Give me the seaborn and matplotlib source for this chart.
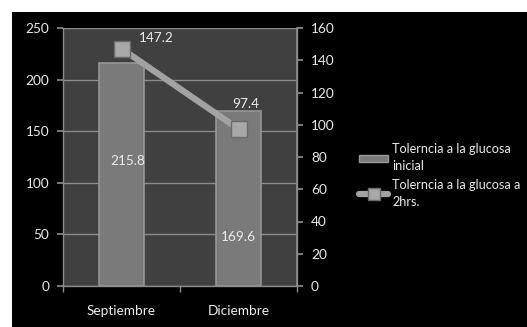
import matplotlib
matplotlib.use("Agg")
import matplotlib.pyplot as plt
import matplotlib.patches as mpatches
from matplotlib.lines import Line2D
import seaborn as sns
import pandas as pd

# Data
meses = ["Septiembre", "Diciembre"]
glucosa_inicial = [215.8, 169.6]
glucosa_2hrs = [147.2, 97.4]
serie_inicial = "Tolerncia a la glucosa\ninicial"
serie_2hrs = "Tolerncia a la glucosa a\n2hrs."

df = pd.DataFrame({"mes": meses, "inicial": glucosa_inicial, "dos_hrs": glucosa_2hrs})

sns.set_theme(style="dark")
plt.rcParams["font.family"] = ["Lato", "DejaVu Sans"]

W, H = 527, 327
fig = plt.figure(figsize=(W / 100, H / 100), dpi=100)
fig.patch.set_facecolor("white")
# black chart area (leaves a thin white margin on top and left)
fig.patches.append(mpatches.Rectangle((12 / W, 0), 1 - 12 / W, 1 - 12 / H,
                                      transform=fig.transFigure, facecolor="black",
                                      edgecolor="none", zorder=-10))

ax = fig.add_axes([63 / W, 1 - 286 / H, (297 - 63) / W, (286 - 28) / H])
ax.set_facecolor("#404040")

txt = "#ebebeb"
axcol = "#8a8a8a"
fs = 9.8

sns.barplot(data=df, x="mes", y="inicial", ax=ax, color="#7a7a7a", width=0.38,
            saturation=1, edgecolor="#959595", linewidth=1.2, zorder=3)
for p in ax.patches:
    p.set_zorder(3)

ax.set_ylim(0, 250)
ax.set_yticks(range(0, 251, 50))
ax.set_xlim(-0.5, 1.5)
ax.grid(axis="y", color="#8a8a8a", linewidth=1, zorder=1)
ax.grid(axis="x", visible=False)
ax.set_axisbelow(True)
ax.set_xlabel("")
ax.set_ylabel("")
ax.tick_params(axis="y", colors=txt, labelsize=fs, length=4, color=axcol, left=True, pad=6)
ax.tick_params(axis="x", colors=txt, labelsize=fs, length=0, pad=14)
# category boundary ticks on the bottom axis
ax.set_xticks([-0.5, 0.5, 1.5], minor=True)
ax.tick_params(axis="x", which="minor", length=4, color=axcol, bottom=True)
ax.spines["top"].set_visible(False)
for s in ["left", "bottom", "right"]:
    ax.spines[s].set_color(axcol)
    ax.spines[s].set_linewidth(1)

for i, v in enumerate(glucosa_inicial):
    ax.text(i + 0.05 * (1 - i), v * (0.56 if i == 0 else 0.28), f"{v}",
            ha="center", va="center", color=txt, fontsize=fs, zorder=5)

ax2 = ax.twinx()
sns.pointplot(data=df, x="mes", y="dos_hrs", ax=ax2, color="#a2a2a2",
              markers="s", markersize=11, linewidth=4.5, zorder=6)
for ln in ax2.lines:
    ln.set_markerfacecolor("#a8a8a8")
    ln.set_markeredgecolor("#6a6a6a")
    ln.set_markeredgewidth(1)
ax2.set_ylim(0, 160)
ax2.set_yticks(range(0, 161, 20))
ax2.set_xlim(-0.5, 1.5)
ax2.set_ylabel("")
ax2.grid(False)
ax2.tick_params(axis="y", colors=txt, labelsize=fs, length=4, color=axcol, right=True, pad=6)
for s in ["top", "left", "bottom"]:
    ax2.spines[s].set_visible(False)
ax2.spines["right"].set_color(axcol)

ax2.annotate(f"{glucosa_2hrs[0]}", (0, glucosa_2hrs[0]), xytext=(25, 8),
             textcoords="offset points", ha="center", va="center", color=txt, fontsize=fs)
ax2.annotate(f"{glucosa_2hrs[1]}", (1, glucosa_2hrs[1]), xytext=(5, 18),
             textcoords="offset points", ha="center", va="center", color=txt, fontsize=fs)

handles = [
    mpatches.Rectangle((0, 0), 1, 1, facecolor="#7a7a7a", edgecolor="#9a9a9a"),
    Line2D([0], [0], color="#a2a2a2", lw=4.5, marker="s", markersize=9,
           markerfacecolor="#a8a8a8", markeredgecolor="#6a6a6a"),
]
leg = fig.legend(handles, [serie_inicial, serie_2hrs], loc="upper left",
                 bbox_to_anchor=(348 / W, 1 - 132 / H), frameon=False,
                 labelcolor=txt, fontsize=9.1, handlelength=2.3, handleheight=0.4,
                 handletextpad=0.3, labelspacing=0.5)
for t in leg.get_texts():
    t.set_linespacing(1.5)

fig.savefig("out.png", dpi=100, facecolor=fig.get_facecolor())
